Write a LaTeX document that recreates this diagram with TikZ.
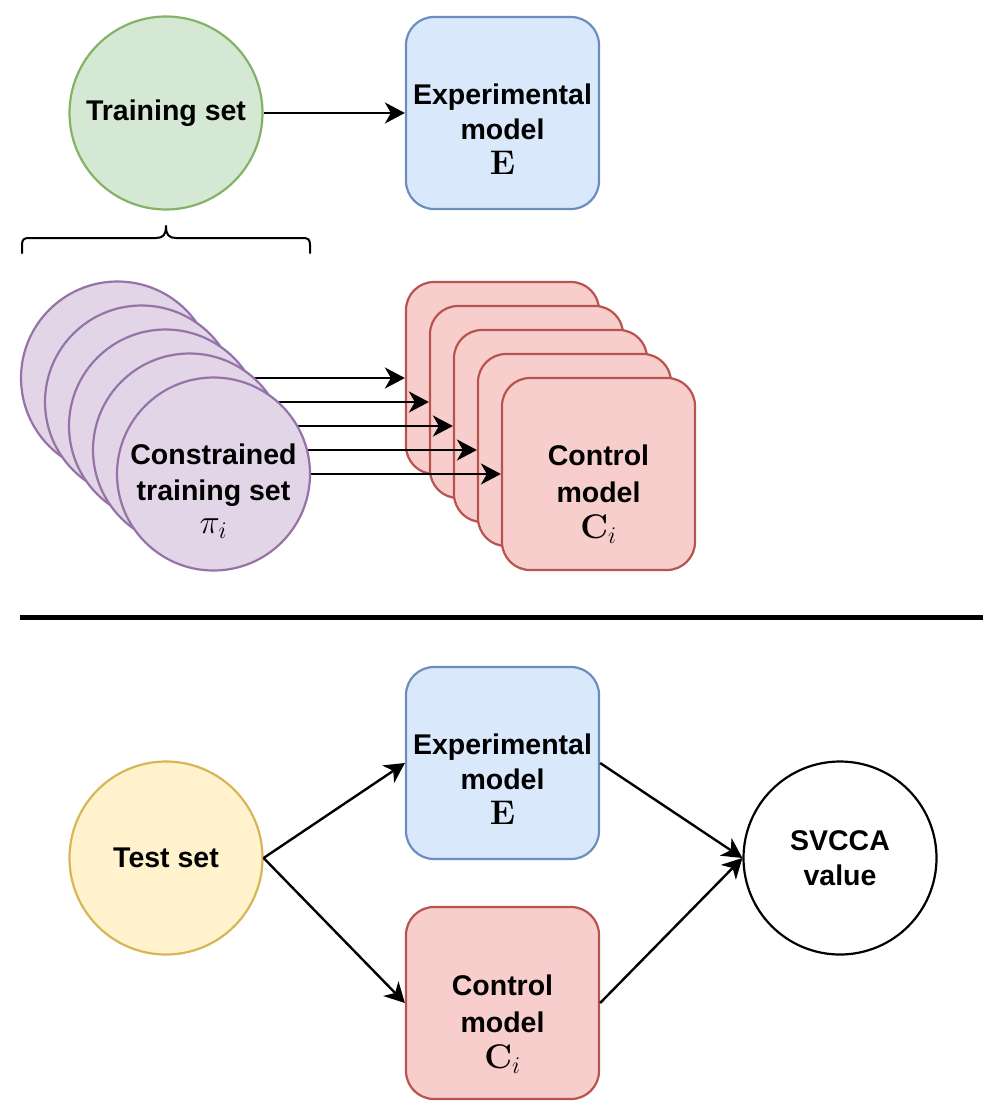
\RequirePackage{fix-cm}
\documentclass[tikz,border=0pt]{standalone}
\usepackage[no-math]{fontspec}
\setmainfont{Liberation Sans}
\usetikzlibrary{arrows.meta,calc}
\definecolor{gfill}{HTML}{D5E8D4}\definecolor{gline}{HTML}{82B366}
\definecolor{bfill}{HTML}{DAE8FC}\definecolor{bline}{HTML}{6C8EBF}
\definecolor{rfill}{HTML}{F8CECC}\definecolor{rline}{HTML}{B85450}
\definecolor{pfill}{HTML}{E1D5E7}\definecolor{pline}{HTML}{9673A6}
\definecolor{yfill}{HTML}{FFF2CC}\definecolor{yline}{HTML}{D6B656}
\newcommand{\mymath}[1]{\scalebox{1.2}{$#1$}}
\pgfdeclarelayer{bg}\pgfdeclarelayer{mid}
\pgfsetlayers{bg,mid,main}
\tikzset{
  txt/.style={font=\bfseries\fontsize{28.5}{35}\selectfont, align=center, inner sep=0pt},
  circ/.style={circle, minimum size=193pt, inner sep=0pt, line width=2.2pt, txt},
  box/.style={rectangle, rounded corners=28pt, minimum width=193pt, minimum height=192pt, inner sep=0pt, line width=2.2pt},
  conn/.style={line width=2.4pt, -{Stealth[length=20pt,width=21pt,inset=6pt]}},
}
\begin{document}
\begin{tikzpicture}[x=1pt,y=-1pt]
\useasboundingbox (0,0) rectangle (998,1118);
% top part
\node[circ, fill=gfill, draw=gline] (train) at (166,113) {Training set};
\node[box, fill=bfill, draw=bline] (exp1) at (502.5,113) {};
\node[txt] (exp1t) at ($(exp1.center)+(0,15.8)$) {Experimental\\model\\\mymath{\mathbf{E}}};
\draw[conn] (train.east) -- (exp1.west);
% brace
\draw[line width=2pt, line cap=round, line join=round]
  (22,253) -- (22,245) .. controls (22,239) and (24,238) .. (30,238) -- (156,238)
  .. controls (163,238) and (166,235) .. (166,226)
  .. controls (166,235) and (169,238) .. (176,238) -- (302,238)
  .. controls (308,238) and (310,239) .. (310,245) -- (310,253);
% stacked control models
\begin{pgfonlayer}{bg}
\foreach \k in {0,...,4}{
  \node[box, fill=rfill, draw=rline] (r\k) at (502.5+24*\k,378+24*\k) {};
}
\end{pgfonlayer}
\node[txt] (r4t) at ($(r4.center)+(0,20.5)$) {Control\\[1.5pt]model\\[1.5pt]\mymath{\mathbf{C}_i}};
% stacked constrained sets
\foreach \k in {0,...,4}{
  \node[circ, fill=pfill, draw=pline] (c\k) at (117.5+24*\k,378+24*\k) {};
}
\node[txt] (c4t) at ($(c4.center)+(0,17)$) {Constrained\\[1pt]training set\\[-2pt]\mymath{\pi_i}};
\begin{pgfonlayer}{mid}
\foreach \k in {0,...,4}{
  \draw[conn] (c\k.east) -- (r\k.west);
}
\end{pgfonlayer}
% separator
\coordinate (sepL) at (20,617.5);
\coordinate (sepR) at (983,617.5);
\draw[line width=5pt] (sepL) -- (sepR);
% bottom part
\node[circ, fill=yfill, draw=yline] (test) at (166,858) {Test set};
\node[box, fill=bfill, draw=bline] (exp2) at (502.5,763) {};
\node[txt] (exp2t) at ($(exp2.center)+(0,15.8)$) {Experimental\\model\\\mymath{\mathbf{E}}};
\node[box, fill=rfill, draw=rline] (ctl2) at (502.5,1003) {};
\node[txt] (ctl2t) at ($(ctl2.center)+(0,21.5)$) {Control\\[1.5pt]model\\[1.5pt]\mymath{\mathbf{C}_i}};
\node[circ, fill=white, draw=black] (sv) at (840,858) {SVCCA\\value};
\draw[conn] (test.east) -- (exp2.west);
\draw[conn] (test.east) -- (ctl2.west);
\draw[conn] (exp2.east) -- (sv.west);
\draw[conn] (ctl2.east) -- (sv.west);
\end{tikzpicture}
\end{document}
